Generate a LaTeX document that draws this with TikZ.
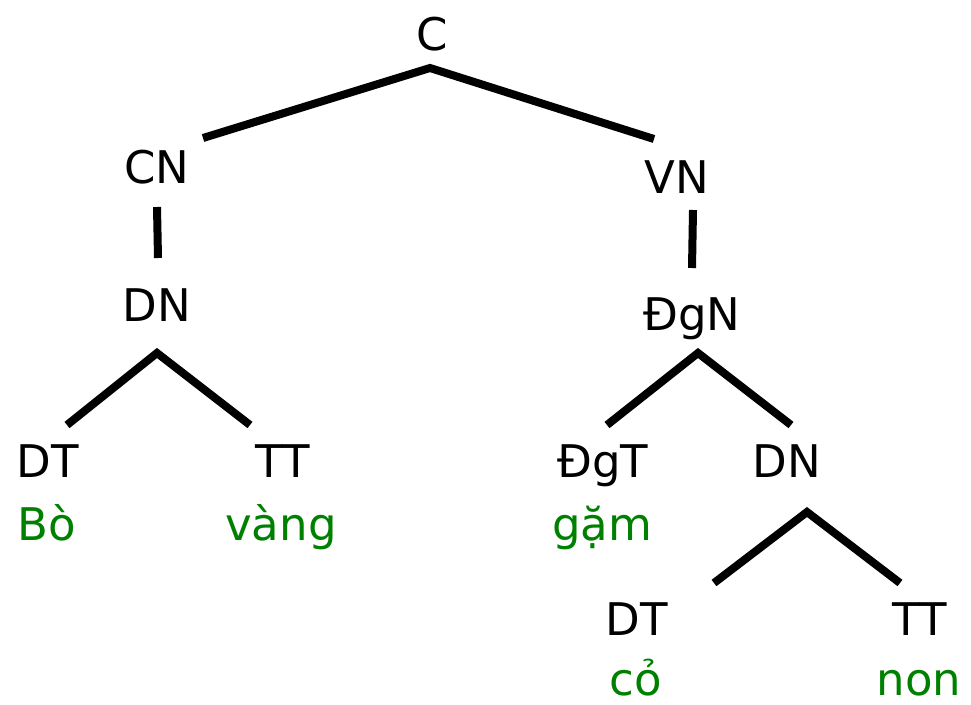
\documentclass[tikz,border=0pt]{standalone}
\usepackage{fontspec}
\setmainfont{DejaVu Sans}
\definecolor{leafgreen}{RGB}{0,128,0}
\begin{document}
\begin{tikzpicture}[x=1pt,y=-1pt,
  cat/.style={anchor=base,inner sep=0pt,font=\fontsize{45}{54}\selectfont},
  word/.style={cat,text=leafgreen},
  branch/.style={line width=8pt,line join=miter,line cap=butt}]
\useasboundingbox (0,0) rectangle (971,704);

% category labels
\node[cat] (C)    at (432,50)  {C};
\node[cat] (CN)   at (157,183) {CN};
\node[cat] (VN)   at (677,193) {VN};
\node[cat] (DN1)  at (157,321) {DN};
\node[cat] (DgN)  at (692,330) {ĐgN};
\node[cat] (DT1)  at (48,477)  {DT};
\node[cat] (TT1)  at (283,477) {TT};
\node[cat] (DgT)  at (603,477) {ĐgT};
\node[cat] (DN2)  at (787,477) {DN};
\node[cat] (DT2)  at (637,635) {DT};
\node[cat] (TT2)  at (920,635) {TT};

% words
\node[word] (w1) at (47,540)  {Bò};
\node[word] (w2) at (281,540) {vàng};
\node[word] (w3) at (602,540) {gặm};
\node[word] (w4) at (636,695) {cỏ};
\node[word] (w5) at (919,695) {non};

% branch end points
\coordinate (C-top)   at (430,68);
\coordinate (CN-top)  at (203,138);
\coordinate (VN-top)  at (654,139);
\coordinate (CN-bot)  at (157,207);
\coordinate (DN1-top) at (158,258);
\coordinate (VN-bot)  at (693,210);
\coordinate (DgN-top) at (692,268);
\coordinate (DN1-bot) at (157,353);
\coordinate (DT1-top) at (67,425);
\coordinate (TT1-top) at (250,425);
\coordinate (DgN-bot) at (698,353);
\coordinate (DgT-top) at (607,425);
\coordinate (DN2-top) at (791,425);
\coordinate (DN2-bot) at (807,512);
\coordinate (DT2-top) at (714,583);
\coordinate (TT2-top) at (900,583);

% branches
\draw[branch] (CN-top) -- (C-top) -- (VN-top);
\draw[branch] (CN-bot) -- (DN1-top);
\draw[branch] (VN-bot) -- (DgN-top);
\draw[branch] (DT1-top) -- (DN1-bot) -- (TT1-top);
\draw[branch] (DgT-top) -- (DgN-bot) -- (DN2-top);
\draw[branch] (DT2-top) -- (DN2-bot) -- (TT2-top);
\end{tikzpicture}
\end{document}
